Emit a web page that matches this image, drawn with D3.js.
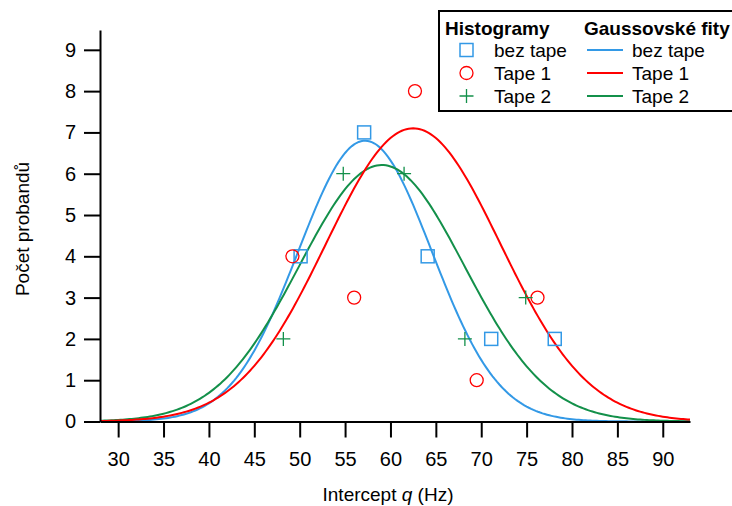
<!DOCTYPE html>
<html>
<head>
<meta charset="utf-8">
<script src="https://cdn.jsdelivr.net/npm/d3@7"></script>
<style>
  body { margin: 0; background: #fff; }
  text { font-family: "Liberation Sans", Arial, sans-serif; }
</style>
</head>
<body>
<svg id="chart" width="732" height="506"></svg>
<script>
// histogram points
var bezTapeX = [50.1, 57.1, 64.1, 71.1, 78.1];
var bezTapeY = [4, 7, 4, 2, 2];
var tape1X = [49.2, 56.0, 62.7, 69.5, 76.2];
var tape1Y = [4, 3, 8, 1, 3];
var tape2X = [48.2, 54.8, 61.5, 68.2, 74.9];
var tape2Y = [2, 6, 6, 2, 3];

// gaussian fit parameters [amplitude, centre, sigma]
var fitBezTape = [6.8, 57.2, 7.35];
var fitTape1 = [7.1, 62.5, 9.6];
var fitTape2 = [6.21, 59.05, 9.1];

var xTicks = [30, 35, 40, 45, 50, 55, 60, 65, 70, 75, 80, 85, 90];
var yTicks = [0, 1, 2, 3, 4, 5, 6, 7, 8, 9];
var seriesNames = ["bez tape", "Tape 1", "Tape 2"];

var blue = "#3399e6", red = "#ff0000", green = "#13904a";

var svg = d3.select("#chart");
var plotLeft = 100, plotRight = 690, plotTop = 30, plotBottom = 421.5;

var x = d3.scaleLinear().domain([28, 93]).range([plotLeft, plotRight]);
var y = d3.scaleLinear().domain([0, 9.48]).range([plotBottom, plotTop]);

// fit curves
function gauss(p) {
  var pts = [];
  for (var v = 28; v <= 93.001; v += 0.25) {
    pts.push([v, p[0] * Math.exp(-((v - p[1]) * (v - p[1])) / (2 * p[2] * p[2]))]);
  }
  return pts;
}
var line = d3.line().x(function(d) { return x(d[0]); }).y(function(d) { return y(d[1]); });

[[fitBezTape, blue], [fitTape2, green], [fitTape1, red]].forEach(function(f) {
  svg.append("path")
    .attr("d", line(gauss(f[0])))
    .attr("fill", "none")
    .attr("stroke", f[1])
    .attr("stroke-width", 2);
});

// axes
var xAxis = svg.append("g")
  .attr("transform", "translate(0," + plotBottom + ")")
  .call(d3.axisBottom(x).tickValues(xTicks).tickSize(16).tickSizeOuter(0).tickPadding(14));
var yAxis = svg.append("g")
  .attr("transform", "translate(" + plotLeft + ",0)")
  .call(d3.axisLeft(y).tickValues(yTicks).tickSize(16).tickSizeOuter(0).tickPadding(8));

[xAxis, yAxis].forEach(function(a) {
  a.selectAll(".domain").attr("stroke", "#000").attr("stroke-width", 2);
  a.selectAll(".tick line").attr("stroke", "#000").attr("stroke-width", 2);
  a.selectAll(".tick text").attr("fill", "#000").style("font-size", "20px")
    .style("font-family", "'Liberation Sans', Arial, sans-serif");
});

// markers
function squares(xs, ys, color) {
  svg.selectAll(null).data(xs).enter().append("rect")
    .attr("x", function(d) { return x(d) - 6.5; })
    .attr("y", function(d, i) { return y(ys[i]) - 6.5; })
    .attr("width", 13).attr("height", 13)
    .attr("fill", "none").attr("stroke", color).attr("stroke-width", 1.5);
}
function circles(xs, ys, color) {
  svg.selectAll(null).data(xs).enter().append("circle")
    .attr("cx", function(d) { return x(d); })
    .attr("cy", function(d, i) { return y(ys[i]); })
    .attr("r", 6.5)
    .attr("fill", "none").attr("stroke", color).attr("stroke-width", 1.3);
}
function pluses(xs, ys, color) {
  svg.selectAll(null).data(xs).enter().append("path")
    .attr("d", "M-7,0H7M0,-7V7")
    .attr("transform", function(d, i) { return "translate(" + x(d) + "," + y(ys[i]) + ")"; })
    .attr("fill", "none").attr("stroke", color).attr("stroke-width", 1.3);
}
squares(bezTapeX, bezTapeY, blue);
circles(tape1X, tape1Y, red);
pluses(tape2X, tape2Y, green);

// axis titles
var xt = svg.append("text")
  .attr("x", 388).attr("y", 501)
  .attr("text-anchor", "middle")
  .style("font-size", "19px");
xt.append("tspan").text("Intercept ");
xt.append("tspan").style("font-style", "italic").text("q");
xt.append("tspan").text(" (Hz)");

svg.append("text")
  .attr("transform", "translate(29,229) rotate(-90)")
  .attr("text-anchor", "middle")
  .style("font-size", "19px")
  .text("Počet probandů");

// legend
var lg = svg.append("g");
lg.append("rect").attr("x", 439).attr("y", 11).attr("width", 300).attr("height", 100)
  .attr("fill", "#fff").attr("stroke", "#000").attr("stroke-width", 2);
lg.append("text").attr("x", 445).attr("y", 35).style("font-size", "19px").style("font-weight", "bold").text("Histogramy");
lg.append("text").attr("x", 584).attr("y", 35).style("font-size", "19px").style("font-weight", "bold").text("Gaussovské fity");

var rowY = [50, 73, 96];
var colors = [blue, red, green];
lg.append("rect").attr("x", 460).attr("y", rowY[0] - 6.5).attr("width", 13).attr("height", 13)
  .attr("fill", "none").attr("stroke", blue).attr("stroke-width", 1.5);
lg.append("circle").attr("cx", 466.5).attr("cy", rowY[1]).attr("r", 6.5)
  .attr("fill", "none").attr("stroke", red).attr("stroke-width", 1.3);
lg.append("path").attr("d", "M459.5," + rowY[2] + "H473.5M466.5," + (rowY[2] - 7) + "V" + (rowY[2] + 7))
  .attr("fill", "none").attr("stroke", green).attr("stroke-width", 1.3);

seriesNames.forEach(function(n, i) {
  lg.append("text").attr("x", 494).attr("y", rowY[i] + 7).style("font-size", "19px").text(n);
  lg.append("line").attr("x1", 587).attr("x2", 623).attr("y1", rowY[i]).attr("y2", rowY[i])
    .attr("stroke", colors[i]).attr("stroke-width", 2);
  lg.append("text").attr("x", 632).attr("y", rowY[i] + 7).style("font-size", "19px").text(n);
});
</script>
</body>
</html>
